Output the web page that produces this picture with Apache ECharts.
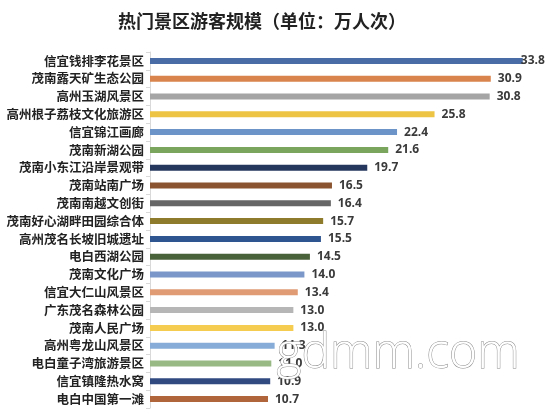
<!DOCTYPE html>
<html><head><meta charset="utf-8">
<script src="https://cdn.jsdelivr.net/npm/echarts@6/dist/echarts.min.js"></script>
<style>html,body{margin:0;padding:0;background:#fff}#c{width:548px;height:420px}</style>
</head><body><div id="c"></div>
<script>
const titleText = '热门景区游客规模（单位：万人次）';
const categories = ['信宜钱排李花景区','茂南露天矿生态公园','高州玉湖风景区','高州根子荔枝文化旅游区','信宜锦江画廊','茂南新湖公园','茂南小东江沿岸景观带','茂南站南广场','茂南南越文创街','茂南好心湖畔田园综合体','高州茂名长坡旧城遗址','电白西湖公园','茂南文化广场','信宜大仁山风景区','广东茂名森林公园','茂南人民广场','高州粤龙山风景区','电白童子湾旅游景区','信宜镇隆热水窝','电白中国第一滩'];
const values = [33.8,30.9,30.8,25.8,22.4,21.6,19.7,16.5,16.4,15.7,15.5,14.5,14.0,13.4,13.0,13.0,11.3,11.0,10.9,10.7];
const colors = ['#4a6ca6','#d9844c','#a5a5a5','#eec445','#6c94c9','#79a65c','#26375e','#8b5431','#666666','#8f7b2c','#2f5590','#4a6239','#7b97c9','#e09b74','#b6b6b6','#f5cb50','#87acd8','#98b884','#314a80','#b0653a'];

const chart = echarts.init(document.getElementById('c'));
chart.setOption({
  backgroundColor:'#fff',
  animation:false,
  title:{text:titleText,left:118,top:12,padding:0,
    textStyle:{fontSize:18,fontWeight:'bold',color:'#222',fontFamily:'Noto Sans CJK SC'}},
  grid:{left:150,right:12,top:52,bottom:12,containLabel:false},
  xAxis:{type:'value',min:0,max:35,show:false},
  yAxis:{type:'category',data:categories,inverse:true,
    axisLine:{show:true,lineStyle:{color:'#d9d9d9',width:1}},
    axisTick:{show:true,length:4,lineStyle:{color:'#d9d9d9'}},
    axisLabel:{margin:6,fontSize:12.5,fontWeight:'bold',color:'#222',fontFamily:'Noto Sans CJK SC'}},
  series:[{type:'bar',barWidth:6,
    data:values.map((v,i)=>({value:v,itemStyle:{color:colors[i]},
      label:i===0?{offset:[-9,0]}:{}})),
    label:{show:true,position:'right',distance:7,formatter:p=>p.value.toFixed(1),
      fontSize:12,fontWeight:'bold',color:'#3a3a3a',fontFamily:'Open Sans'}}],
  graphic:[{type:'text',left:276,top:330,z:100,
    style:{text:'gdmm.com',fontSize:48,fontWeight:300,fontFamily:'Open Sans',fill:'#ffffff',
      stroke:'#8a8a8a',lineWidth:1,shadowColor:'rgba(0,0,0,0.6)',shadowBlur:3,shadowOffsetX:2,shadowOffsetY:2}}]
});
</script></body></html>
